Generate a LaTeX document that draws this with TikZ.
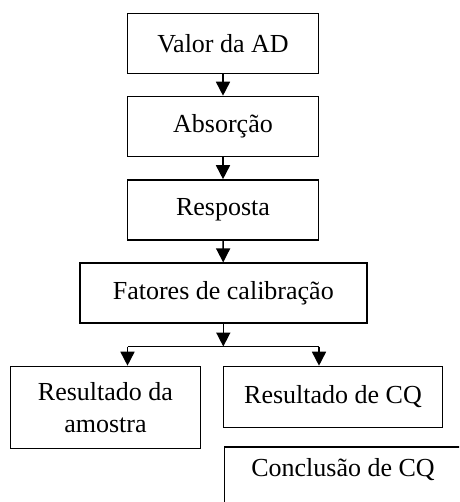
\documentclass[tikz,border=0pt]{standalone}
\usepackage{fontspec}
\setmainfont{Liberation Serif}
\usetikzlibrary{arrows.meta}
\begin{document}
\begin{tikzpicture}[x=1pt,y=-1pt,
  box/.style={draw=black, line width=1.6pt, rectangle, inner sep=0pt, align=center, font=\fontsize{26}{31.5}\selectfont},
  lbl/.style={inner sep=0pt, font=\fontsize{26}{31.5}\selectfont},
  arr/.style={line width=1.6pt, -{Triangle[length=14pt,width=14pt]}},
  ln/.style={line width=1.6pt}]
\clip (0,0) rectangle (459,502);
\node[box, minimum width=191pt, minimum height=60pt] (A) at (223,43.5) {Valor da AD};
\node[box, minimum width=191pt, minimum height=60pt] (B) at (223,126.5) {Absorção};
\node[box, minimum width=191pt, minimum height=60pt] (C) at (223,210) {Resposta};
\node[box, minimum width=287pt, minimum height=60pt] (D) at (223.3,293.2) {Fatores de calibração};
\node[box, minimum width=190pt, minimum height=82pt] (E) at (105.5,407.5) {Resultado da\\amostra};
\node[box, minimum width=219pt, minimum height=61pt] (F) at (333,397) {Resultado de CQ};
\node[box, anchor=north west, minimum width=240pt, minimum height=80pt] (G) at (223.5,446) {};
\node[lbl] (Gt) at (343,470) {Conclusão de CQ};
\coordinate (j) at (223.3,346.5);
\coordinate (jl) at (127.5,346.5);
\coordinate (jr) at (319,346.5);
\draw[arr] (A) -- (B);
\draw[arr] (B) -- (C);
\draw[arr] (C) -- (D);
\draw[arr] (D) -- (j);
\draw[ln] (jl) -- (jr);
\draw[arr] (jl) -- (jl |- E.north);
\draw[arr] (jr) -- (jr |- F.north);
\end{tikzpicture}
\end{document}
